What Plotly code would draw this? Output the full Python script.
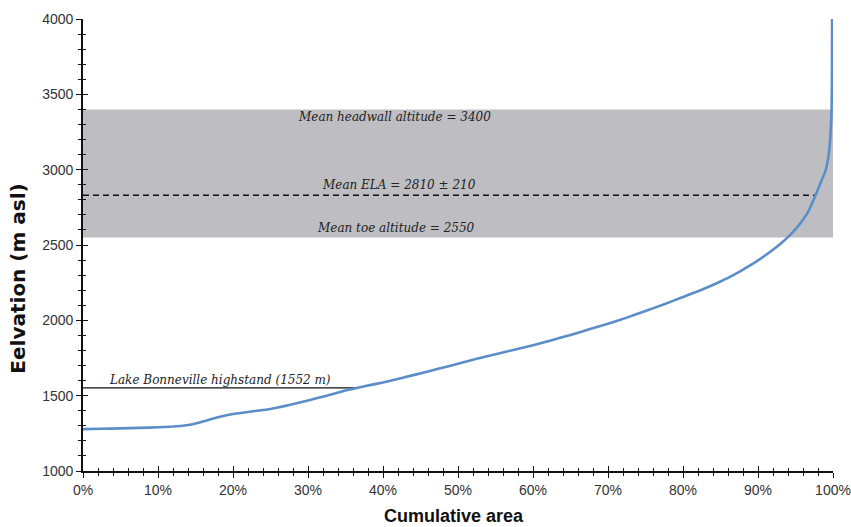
import numpy as np
import plotly.graph_objects as go

# Hypsometric curve: cumulative area (%) vs elevation (m asl)
cum_area = [0, 2.5, 5, 7.5, 10, 12, 13, 14, 15, 16, 17, 18, 19, 20, 22.5, 25, 27.5, 30,
            32.5, 35, 37.5, 40, 42.5, 45, 47.5, 50, 52.5, 55, 57.5, 60, 62.5, 65, 67.5,
            70, 72.5, 75, 77.5, 80, 82.5, 85, 86, 87, 88, 89, 90, 91, 92, 93, 94, 95, 96,
            96.5, 97, 97.5, 98, 98.5, 99, 99.3, 99.5, 99.65, 99.75, 99.82, 99.86, 99.88]
elevation = [1278, 1280, 1283, 1286, 1290, 1295, 1299, 1305, 1315, 1328, 1343, 1357, 1369,
             1378, 1395, 1412, 1438, 1468, 1500, 1535, 1562, 1588, 1618, 1648, 1680, 1712,
             1745, 1775, 1805, 1835, 1868, 1903, 1940, 1977, 2018, 2062, 2107, 2155, 2203,
             2258, 2282, 2308, 2336, 2366, 2398, 2432, 2468, 2508, 2552, 2605, 2668, 2705,
             2752, 2810, 2870, 2932, 2992, 3060, 3130, 3220, 3320, 3420, 3600, 4000]

headwall_alt = 3400
toe_alt = 2550
ela_line = 2830
bonneville = 1552

labels = {
    "headwall": "Mean headwall altitude = 3400",
    "ela": "Mean ELA = 2810 ± 210",
    "toe": "Mean toe altitude = 2550",
    "bonneville": "Lake Bonneville highstand (1552 m)",
}
x_title = "Cumulative area"
y_title = "Eelvation (m asl)"

x_ticks = list(range(0, 101, 10))
x_ticktext = [f"{v}%" for v in x_ticks]
y_ticks = list(range(1000, 4001, 500))

curve_color = "#5B8DC8"
band_color = "#BEBEC2"

# crossing points of reference lines with the curve
x_ela = float(np.interp(ela_line, elevation, cum_area))
x_bon = float(np.interp(bonneville, elevation, cum_area))

fig = go.Figure()

fig.add_shape(type="rect", xref="paper", yref="y", x0=0, x1=1,
              y0=toe_alt, y1=headwall_alt, fillcolor=band_color,
              line=dict(width=0), layer="below")

fig.add_trace(go.Scatter(x=[0, x_ela], y=[ela_line, ela_line], mode="lines",
                         line=dict(color="#111111", width=1.6, dash="6px,4px"),
                         showlegend=False, hoverinfo="skip"))
fig.add_trace(go.Scatter(x=[0, x_bon], y=[bonneville, bonneville], mode="lines",
                         line=dict(color="#111111", width=1.3),
                         showlegend=False, hoverinfo="skip"))
fig.add_trace(go.Scatter(x=cum_area, y=elevation, mode="lines",
                         line=dict(color=curve_color, width=2.6, shape="spline", smoothing=0.4),
                         showlegend=False))
# invisible trace on the overlay axes (for crossing tick marks)
fig.add_trace(go.Scatter(x=[0], y=[1000], xaxis="x2", yaxis="y2", mode="markers",
                         marker=dict(opacity=0), showlegend=False, hoverinfo="skip"))

font_tick = dict(family="Liberation Sans, Arial, sans-serif", size=14, color="#333333")
serif_it = dict(family="DejaVu Serif, serif", size=12, color="#222222")

common_x = dict(range=[0, 100], showgrid=False, zeroline=False, automargin=False,
                showline=True, linecolor="#111111", linewidth=1.6,
                tickmode="array", tickvals=x_ticks, ticklen=5, tickwidth=1.4,
                tickcolor="#111111",
                minor=dict(dtick=2, ticklen=3, tickwidth=1.2, tickcolor="#111111"))
common_y = dict(range=[1000, 4000], showgrid=False, zeroline=False, automargin=False,
                showline=True, linecolor="#111111", linewidth=1.6,
                tickmode="array", tickvals=y_ticks, ticklen=5, tickwidth=1.4,
                tickcolor="#111111",
                minor=dict(dtick=100, ticklen=3, tickwidth=1.2, tickcolor="#111111"))

fig.update_layout(
    width=851, height=527,
    margin=dict(l=83, r=18, t=19, b=56),
    plot_bgcolor="white", paper_bgcolor="white",
    xaxis=dict(**common_x, ticks="outside", ticktext=x_ticktext, tickfont=font_tick,
               minor_ticks="outside"),
    yaxis=dict(**common_y, ticks="outside", tickfont=font_tick, minor_ticks="outside"),
    xaxis2=dict(**common_x, overlaying="x", ticks="inside", minor_ticks="inside",
                showticklabels=False, anchor="y2"),
    yaxis2=dict(**common_y, overlaying="y", ticks="inside", minor_ticks="inside",
                showticklabels=False, anchor="x2"),
)

# axis titles
fig.add_annotation(xref="paper", yref="paper", x=0.494, y=-0.099, text=f"<b>{x_title}</b>",
                   showarrow=False, xanchor="center", yanchor="middle",
                   font=dict(family="Liberation Sans, Arial, sans-serif", size=18, color="#111111"))
fig.add_annotation(xref="paper", yref="paper", x=-0.087, y=0.425, text=f"<b>{y_title}</b>",
                   showarrow=False, xanchor="center", yanchor="middle", textangle=-90,
                   font=dict(family="DejaVu Sans, sans-serif", size=20, color="#111111"))

# reference-line labels
fig.add_annotation(x=41.5, y=headwall_alt, yshift=-8, text=f"<i>{labels['headwall']}</i>",
                   showarrow=False, font=serif_it, xanchor="center", yanchor="middle")
fig.add_annotation(x=42.1, y=ela_line, yshift=10, text=f"<i>{labels['ela']}</i>",
                   showarrow=False, font=serif_it, xanchor="center", yanchor="middle")
fig.add_annotation(x=41.7, y=toe_alt, yshift=9, text=f"<i>{labels['toe']}</i>",
                   showarrow=False, font=serif_it, xanchor="center", yanchor="middle")
fig.add_annotation(x=3.2, y=bonneville, yshift=8, text=f"<i>{labels['bonneville']}</i>",
                   showarrow=False, font=serif_it, xanchor="left", yanchor="middle")

fig.write_html("out.html", config={"displayModeBar": False},
               post_script="document.body.style.margin='0px';document.body.style.overflow='hidden';")
